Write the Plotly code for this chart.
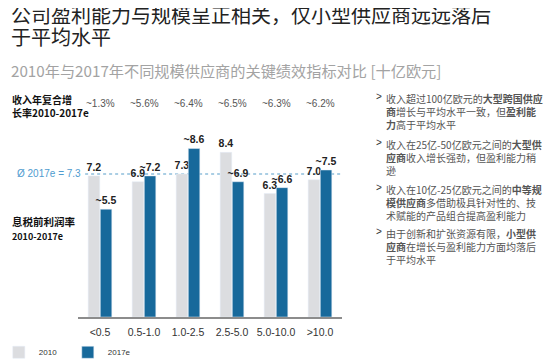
import plotly.graph_objects as go

categories = ["<0.5", "0.5-1.0", "1.0-2.5", "2.5-5.0", "5.0-10.0", ">10.0"]
ebit_2010 = [7.2, 6.9, 7.3, 8.4, 6.3, 7.0]
ebit_2017 = [5.5, 7.2, 8.6, 6.9, 6.6, 7.5]
cagr_labels = ["~1.3%", "~5.6%", "~6.4%", "~6.5%", "~6.3%", "~6.2%"]
avg_2017 = 7.3
series_names = ["2010", "2017e"]

title_lines = ["公司盈利能力与规模呈正相关，仅小型供应商远远落后", "于平均水平"]
subtitle_text = "2010年与2017年不同规模供应商的关键绩效指标对比 [十亿欧元]"
cagr_title = "收入年复合增<br>长率2010-2017e"
ebit_title = "息税前利润率<br><span style='font-size:9px'>2010-2017e</span>"
avg_label = f"Ø 2017e = {avg_2017}"
bullets = [
    "收入超过100亿欧元的<b>大型跨国供应</b><br><b>商</b>增长与平均水平一致，但<b>盈利能</b><br><b>力</b>高于平均水平",
    "收入在25亿-50亿欧元之间的<b>大型供</b><br><b>应商</b>收入增长强劲，但盈利能力稍<br>逊",
    "收入在10亿-25亿欧元之间的<b>中等规</b><br><b>模供应商</b>多借助极具针对性的、技<br>术赋能的产品组合提高盈利能力",
    "由于创新和扩张资源有限，<b>小型供</b><br><b>应商</b>在增长与盈利能力方面均落后<br>于平均水平",
]
bullet_y = [1.164, 0.931, 0.701, 0.477]

NARROW = "Liberation Sans Narrow, Liberation Sans, Arial, sans-serif"
CJK = "Noto Sans CJK SC, sans-serif"
GRAY = "#dcdde0"
BLUE = "#17699b"

fig = go.Figure()
fig.add_trace(go.Bar(
    x=categories, y=ebit_2010, name=series_names[0], marker_color=GRAY,
    text=[f"{v:.1f}" for v in ebit_2010], textposition="outside",
    textfont=dict(family=NARROW, size=10.5, color="#222222", weight="bold"),
    constraintext="none", cliponaxis=False,
))
fig.add_trace(go.Bar(
    x=categories, y=ebit_2017, name=series_names[1], marker_color=BLUE,
    text=[f"~{v:.1f}" for v in ebit_2017], textposition="outside",
    textfont=dict(family=NARROW, size=10.5, color="#222222", weight="bold"),
    constraintext="none", cliponaxis=False,
))

fig.add_shape(type="line", xref="paper", yref="y", x0=0.027, x1=1.0,
              y0=avg_2017, y1=avg_2017,
              line=dict(color="#8fbedb", width=1.5, dash="dot"), layer="below")

ann = []
ann.append(dict(xref="paper", yref="y", x=0.019, y=avg_2017, text=avg_label,
                showarrow=False, xanchor="right", yanchor="middle",
                font=dict(family=NARROW, size=10, color="#4f9ccf")))
for c, t in zip(categories, cagr_labels):
    ann.append(dict(xref="x", yref="paper", x=c, y=1.087, text=t, showarrow=False,
                    xanchor="center", yanchor="middle",
                    font=dict(family=NARROW, size=10, color="#555555")))
ann.append(dict(xref="paper", yref="paper", x=-0.258, y=1.077, text=cagr_title,
                showarrow=False, xanchor="left", yanchor="middle", align="left",
                font=dict(family=CJK, size=10, color="#111111", weight="bold")))
ann.append(dict(xref="paper", yref="paper", x=-0.258, y=0.454, text=ebit_title,
                showarrow=False, xanchor="left", yanchor="middle", align="left",
                font=dict(family=CJK, size=10.5, color="#111111", weight="bold")))
for b, yb in zip(bullets, bullet_y):
    ann.append(dict(xref="paper", yref="paper", x=1.123, y=yb, text="&gt;",
                    showarrow=False, xanchor="left", yanchor="top",
                    font=dict(family=NARROW, size=10, color="#333333")))
    ann.append(dict(xref="paper", yref="paper", x=1.16, y=yb, text=b,
                    showarrow=False, xanchor="left", yanchor="top", align="left",
                    font=dict(family=CJK, size=10, color="#555555")))
for line, yp in zip(title_lines, [1.545, 1.433]):
    ann.append(dict(xref="paper", yref="paper", x=-0.262, y=yp, text=line,
                    showarrow=False, xanchor="left", yanchor="middle",
                    font=dict(family=CJK, size=20, color="#222222")))
ann.append(dict(xref="paper", yref="paper", x=-0.262, y=1.262,
                text=subtitle_text, showarrow=False, xanchor="left", yanchor="middle",
                font=dict(family=CJK, size=15.2, color="#a3a3a3")))

# The page body adds an 8 px margin, so the plot area is placed 8 px up/left.
fig.update_layout(
    width=554, height=359,
    margin=dict(l=70, r=220, t=113, b=50, autoexpand=False),
    paper_bgcolor="white", plot_bgcolor="white",
    barmode="group", bargap=0.45, bargroupgap=0.05,
    showlegend=True,
    legend=dict(orientation="h", x=-0.3, xanchor="left", y=-0.18, yanchor="middle",
                font=dict(family=NARROW, size=8, color="#333333"),
                entrywidth=24, itemwidth=30, bgcolor="rgba(0,0,0,0)"),
    annotations=ann,
    xaxis=dict(showline=True, linecolor="#8c8c8c", linewidth=1.5, showgrid=False,
               ticks="outside", ticklen=5, tickcolor="rgba(0,0,0,0)",
               tickfont=dict(family=NARROW, size=10.5, color="#333333"),
               range=[-0.5, 5.5]),
    yaxis=dict(visible=False, range=[0, 10], showgrid=False, zeroline=False),
)

fig.write_html("out.html")
